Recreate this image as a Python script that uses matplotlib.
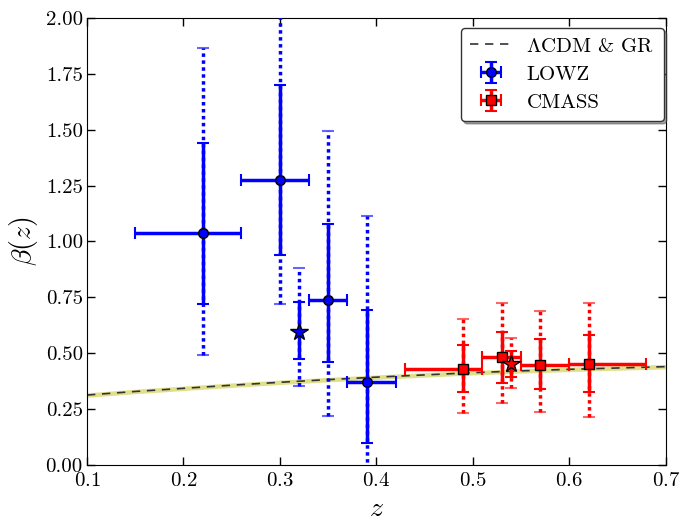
import numpy as np
import matplotlib
matplotlib.use("Agg")
import matplotlib.pyplot as plt

plt.rcParams['font.family'] = ['cmr10', 'DejaVu Serif']
plt.rcParams['mathtext.fontset'] = 'cm'
plt.rcParams['axes.formatter.use_mathtext'] = True

# Theory curve (LCDM & GR)
z_th = [0.10, 0.15, 0.20, 0.25, 0.30, 0.35, 0.40, 0.45, 0.50, 0.55, 0.60, 0.65, 0.70]
b_th = [0.313, 0.329, 0.343, 0.357, 0.370, 0.382, 0.393, 0.403, 0.413, 0.421, 0.428, 0.434, 0.440]
b_th_err = 0.01

# LOWZ
lz_z = [0.22, 0.30, 0.35, 0.39]
lz_b = [1.04, 1.275, 0.74, 0.37]
lz_xlo = [0.07, 0.04, 0.02, 0.02]
lz_xhi = [0.04, 0.03, 0.02, 0.03]
lz_1lo = [0.72, 0.94, 0.46, 0.10]
lz_1hi = [1.44, 1.70, 1.08, 0.695]
lz_2lo = [0.49, 0.72, 0.22, -0.05]
lz_2hi = [1.865, 2.30, 1.495, 1.115]
lz_star_z, lz_star_b = 0.32, 0.595
lz_star_1 = (0.474, 0.73)
lz_star_2 = (0.354, 0.88)

# CMASS
cm_z = [0.49, 0.53, 0.57, 0.62]
cm_b = [0.428, 0.485, 0.446, 0.452]
cm_xlo = [0.06, 0.02, 0.02, 0.02]
cm_xhi = [0.02, 0.02, 0.03, 0.06]
cm_1lo = [0.328, 0.368, 0.34, 0.328]
cm_1hi = [0.537, 0.597, 0.564, 0.582]
cm_2lo = [0.234, 0.276, 0.238, 0.216]
cm_2hi = [0.652, 0.723, 0.69, 0.723]
cm_star_z, cm_star_b = 0.54, 0.452
cm_star_1 = (0.392, 0.512)
cm_star_2 = (0.346, 0.567)

fig = plt.figure(figsize=(6.8, 5.21), dpi=100)
ax = fig.add_axes([0.128, 0.1075, 0.851, 0.858])

zt = np.array(z_th); bt = np.array(b_th)
ax.fill_between(zt, bt - b_th_err, bt + b_th_err, color='#e0e08a', lw=0, zorder=1)
ax.plot(zt, bt, '--', color='#333333', lw=1.2, dashes=(5, 4), zorder=2, label=r'$\Lambda$CDM & GR')


def draw(zs, bs, xlo, xhi, l1, h1, l2, h2, color, marker, ms, label):
    zs = np.array(zs); bs = np.array(bs)
    e2 = ax.errorbar(zs, bs, yerr=[bs - np.array(l2), np.array(h2) - bs], fmt='none',
                     ecolor=color, elinewidth=2.5, capsize=4, capthick=1.5, zorder=3)
    e2[2][0].set_linestyle((0, (1, 1)))
    for c in e2[1]:
        c.set_alpha(0.6)
    ax.errorbar(zs, bs, xerr=[np.array(xlo), np.array(xhi)],
                yerr=[bs - np.array(l1), np.array(h1) - bs], fmt=marker, color=color,
                mfc=color, mec='k', ms=ms, elinewidth=2.5, capsize=4, capthick=1.5,
                zorder=4, label=label)


draw(lz_z, lz_b, lz_xlo, lz_xhi, lz_1lo, lz_1hi, lz_2lo, lz_2hi, 'b', 'o', 7, 'LOWZ')
draw(cm_z, cm_b, cm_xlo, cm_xhi, cm_1lo, cm_1hi, cm_2lo, cm_2hi, 'r', 's', 7.5, 'CMASS')


def star(z, b, s1, s2, color):
    e2 = ax.errorbar([z], [b], yerr=[[b - s2[0]], [s2[1] - b]], fmt='none', ecolor=color,
                     elinewidth=2.5, capsize=4, capthick=1.5, zorder=3)
    e2[2][0].set_linestyle((0, (1, 1)))
    for c in e2[1]:
        c.set_alpha(0.6)
    ax.errorbar([z], [b], yerr=[[b - s1[0]], [s1[1] - b]], fmt='*', color=color, mfc=color,
                mec='k', ms=13, elinewidth=2.5, capsize=4, capthick=1.5, zorder=5)


star(lz_star_z, lz_star_b, lz_star_1, lz_star_2, 'b')
star(cm_star_z, cm_star_b, cm_star_1, cm_star_2, 'r')

ax.set_xlim(0.1, 0.7)
ax.set_ylim(0.0, 2.0)
ax.set_xticks([0.1, 0.2, 0.3, 0.4, 0.5, 0.6, 0.7])
ax.set_yticks([0.0, 0.25, 0.5, 0.75, 1.0, 1.25, 1.5, 1.75, 2.0])
ax.set_yticklabels(['0.00', '0.25', '0.50', '0.75', '1.00', '1.25', '1.50', '1.75', '2.00'])
ax.tick_params(direction='in', top=True, right=True, labelsize=15, length=6, width=1)
ax.tick_params(axis='x', pad=5)
ax.tick_params(axis='y', pad=3)
ax.set_xlabel(r'$z$', fontsize=20, labelpad=4)
ax.set_ylabel(r'$\beta(z)$', fontsize=20)

leg = ax.legend(loc='upper right', bbox_to_anchor=(0.997, 0.978), borderaxespad=0,
                fontsize=15, shadow=True, fancybox=True, numpoints=1,
                framealpha=1, edgecolor='#333333', borderpad=0.45, handletextpad=0.7,
                labelspacing=0.45, handlelength=2.0)
leg.get_frame().set_linewidth(1)

fig.savefig('out.png', dpi=100)
